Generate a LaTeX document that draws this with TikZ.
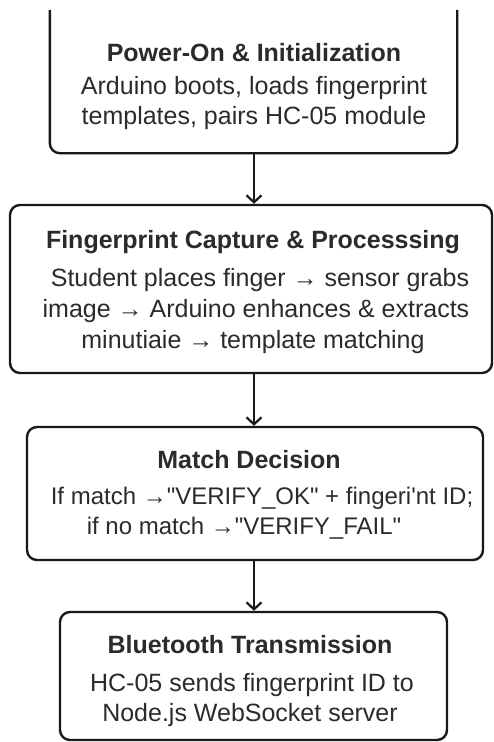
\documentclass[tikz,border=0pt]{standalone}
\usepackage{fontspec}
\setmainfont{Liberation Sans}[Ligatures=TeXOff]
\usetikzlibrary{arrows.meta}
\definecolor{txt}{HTML}{2B2B2B}
\tikzset{
  boxline/.style={draw=black!90, line width=2.4pt, rounded corners=10pt},
  frame/.style={boxline, inner sep=0pt},
  ttl/.style={font=\fontsize{25}{30}\selectfont\bfseries, text=txt, inner sep=0pt},
  bodyline/.style={font=\fontsize{25}{30}\selectfont, text=txt, inner sep=0pt},
  bodysm/.style={font=\fontsize{24}{28}\selectfont, text=txt, inner sep=0pt},
  flow/.style={draw=black!90, line width=2.2pt, -{Straight Barb[length=7pt,width=15pt,line width=2.2pt]}}
}
\begin{document}
\begin{tikzpicture}[x=1pt,y=-1pt]
\useasboundingbox[fill=white] (0,0) rectangle (494,742);
% box 1 (top clipped)
\node[inner sep=0pt, minimum width=407pt, minimum height=143pt] (b1) at (253.5,81.5) {};
\draw[boxline] (b1.north west) -- (b1.south west) -- (b1.south east) -- (b1.north east);
\node[ttl] (t1) at (254,53) {Power-On \& Initialization};
\node[bodyline] (l11) at (254,88) {Arduino boots, loads fingerprint};
\node[bodyline] (l12) at (254,118) {templates, pairs HC-05 module};
% box 2
\node[frame, minimum width=482pt, minimum height=168pt] (b2) at (251,289) {};
\node[ttl] (t2) at (253,242) {Fingerprint Capture \& Processsing};
\node[bodyline] (l21) at (260,280) {Student places finger → sensor grabs};
\node[bodyline] (l22) at (256,311) {image → Arduino enhances \& extracts};
\node[bodyline] (l23) at (253,342) {minutiaie → template matching};
% box 3
\node[frame, minimum width=456pt, minimum height=133pt] (b3) at (255,493.5) {};
\node[ttl] (t3) at (249,460) {Match Decision};
\node[bodysm] (l31) at (262,498) {If match →"VERIFY\_OK" + fingeri'nt ID;};
\node[bodysm] (l32) at (244,528) {if no match →"VERIFY\_FAIL"};
% box 4
\node[frame, minimum width=387pt, minimum height=128pt] (b4) at (253.5,676) {};
\node[ttl] (t4) at (250,645) {Bluetooth Transmission};
\node[bodyline] (l41) at (252,685) {HC-05 sends fingerprint ID to};
\node[bodyline] (l42) at (250,715) {Node.js WebSocket server};
% arrows
\draw[flow] (b1.south -| 254,0) -- (b2.north -| 254,0);
\draw[flow] (b2.south -| 254,0) -- (b3.north -| 254,0);
\draw[flow] (b3.south -| 254,0) -- (b4.north -| 254,0);
\end{tikzpicture}
\end{document}
